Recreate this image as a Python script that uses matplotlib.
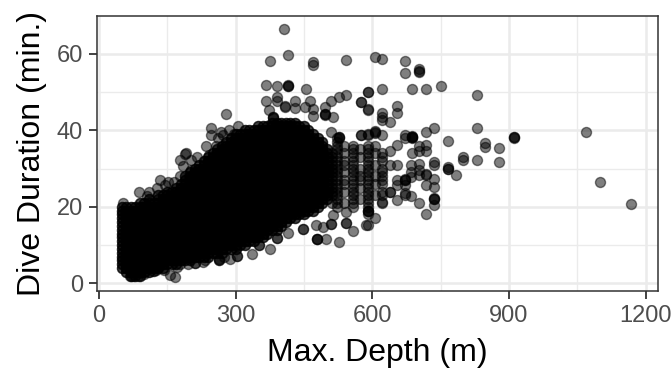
import matplotlib
matplotlib.use("Agg")
import matplotlib.pyplot as plt
from matplotlib.ticker import FixedLocator

plt.rcParams['font.family'] = ['Liberation Sans', 'DejaVu Sans']

# dense part of the cloud, read as columns of dives at about the same depth
col_depth = [50, 60, 70, 80, 90, 100, 110, 120, 130, 140, 150, 160, 170, 180, 190, 200,
             210, 220, 230, 240, 250, 260, 270, 280, 290, 300, 310, 320, 330, 340, 350,
             360, 370, 380, 390, 400, 410, 420, 430, 440, 450, 460, 470, 480, 490, 500]
col_dur = [
    [4,5,6,7,8,9,10,11,12,13,14,15,16,17,18,19,20],
    [3,4,5,6,7,8,9,10,11,12,13,14,15,16,17,18,19,20],
    [2,3,4,5,6,7,8,9,10,11,12,13,14,15,16,17,18,19,20],
    [2,3,4,5,6,7,8,9,10,11,12,13,14,15,16,17,18,19,20],
    [2,3,4,5,6,7,8,9,10,11,12,13,14,15,16,17,18,19,20,21],
    [3,4,5,6,7,8,9,10,11,12,13,14,15,16,17,18,19,20,21],
    [3,4,5,6,7,8,9,10,11,12,13,14,15,16,17,18,19,20,21,22],
    [4,5,6,7,8,9,10,11,12,13,14,15,16,17,18,19,20,21],
    [4,5,6,7,8,9,10,11,12,13,14,15,16,17,18,19,20,21,22,23],
    [4,5,6,7,8,9,10,11,12,13,14,15,16,17,18,19,20,21,22,23],
    [5,6,7,8,9,10,11,12,13,14,15,16,17,18,19,20,21,22,23,24],
    [5,6,7,8,9,10,11,12,13,14,15,16,17,18,19,20,21,22,23,24],
    [5,6,7,8,9,10,11,12,13,14,15,16,17,18,19,20,21,22,23,24,25],
    [6,7,8,9,10,11,12,13,14,15,16,17,18,19,20,21,22,23,24,25,26],
    [6,7,8,9,10,11,12,13,14,15,16,17,18,19,20,21,22,23,24,25,26,27,28],
    [6,7,8,9,10,11,12,13,14,15,16,17,18,19,20,21,22,23,24,25,26,27,28,29],
    [7,8,9,10,11,12,13,14,15,16,17,18,19,20,21,22,23,24,25,26,27,28,29,30],
    [7,8,9,10,11,12,13,14,15,16,17,18,19,20,21,22,23,24,25,26,27,28,29,30,31],
    [7,8,9,10,11,12,13,14,15,16,17,18,19,20,21,22,23,24,25,26,27,28,29,30,31,32],
    [7,8,9,10,11,12,13,14,15,16,17,18,19,20,21,22,23,24,25,26,27,28,29,30,31,32,33],
    [8,9,10,11,12,13,14,15,16,17,18,19,20,21,22,23,24,25,26,27,28,29,30,31,32,33,34],
    [8,9,10,11,12,13,14,15,16,17,18,19,20,21,22,23,24,25,26,27,28,29,30,31,32,33,34,35],
    [8,9,10,11,12,13,14,15,16,17,18,19,20,21,22,23,24,25,26,27,28,29,30,31,32,33,34,35,36],
    [9,10,11,12,13,14,15,16,17,18,19,20,21,22,23,24,25,26,27,28,29,30,31,32,33,34,35,36,37],
    [9,10,11,12,13,14,15,16,17,18,19,20,21,22,23,24,25,26,27,28,29,30,31,32,33,34,35,36,37,38],
    [9,10,11,12,13,14,15,16,17,18,19,20,21,22,23,24,25,26,27,28,29,30,31,32,33,34,35,36,37,38,39],
    [10,11,12,13,14,15,16,17,18,19,20,21,22,23,24,25,26,27,28,29,30,31,32,33,34,35,36,37,38,39],
    [10,11,12,13,14,15,16,17,18,19,20,21,22,23,24,25,26,27,28,29,30,31,32,33,34,35,36,37,38,39,40],
    [11,12,13,14,15,16,17,18,19,20,21,22,23,24,25,26,27,28,29,30,31,32,33,34,35,36,37,38,39,40],
    [11,12,13,14,15,16,17,18,19,20,21,22,23,24,25,26,27,28,29,30,31,32,33,34,35,36,37,38,39,40],
    [12,13,14,15,16,17,18,19,20,21,22,23,24,25,26,27,28,29,30,31,32,33,34,35,36,37,38,39,40,41],
    [12,13,14,15,16,17,18,19,20,21,22,23,24,25,26,27,28,29,30,31,32,33,34,35,36,37,38,39,40,41],
    [13,14,15,16,17,18,19,20,21,22,23,24,25,26,27,28,29,30,31,32,33,34,35,36,37,38,39,40,41],
    [14,15,16,17,18,19,20,21,22,23,24,25,26,27,28,29,30,31,32,33,34,35,36,37,38,39,40,41,42],
    [14,15,16,17,18,19,20,21,22,23,24,25,26,27,28,29,30,31,32,33,34,35,36,37,38,39,40,41,42],
    [15,16,17,18,19,20,21,22,23,24,25,26,27,28,29,30,31,32,33,34,35,36,37,38,39,40,41,42],
    [16,17,18,19,20,21,22,23,24,25,26,27,28,29,30,31,32,33,34,35,36,37,38,39,40,41,42],
    [17,18,19,20,21,22,23,24,25,26,27,28,29,30,31,32,33,34,35,36,37,38,39,40,41,42],
    [17,18,19,20,21,22,23,24,25,26,27,28,29,30,31,32,33,34,35,36,37,38,39,40,41,42],
    [18,19,20,21,22,23,24,25,26,27,28,29,30,31,32,33,34,35,36,37,38,39,40,41],
    [18,19,20,21,22,23,24,25,26,27,28,29,30,31,32,33,34,35,36,37,38,39,40,41],
    [19,20,21,22,23,24,25,26,27,28,29,30,31,32,33,34,35,36,37,38,39,40],
    [19,20,21,22,23,24,25,26,27,28,29,30,31,32,33,34,35,36,37,38,39],
    [20,21,22,23,24,25,26,27,28,29,30,31,32,33,34,35,36,37,38],
    [21,22,23,24,25,26,27,28,29,30,31,32,33,34,35,36,37],
    [22,23,24,25,26,27,28,29,30,31,32,33,34,35],
]

# stacks to the right of the dense part
stack_depth = [512, 522, 538, 557, 573, 590, 606, 621]
stack_dur = [
    [21,23,24,25,26,27,28,29,30,31,32,33,34],
    [20,21,22,23,24,25,26,27,28,29,30,31,32,33,34,35,36,37,38],
    [21,24,26,27,29,31,32,34,36],
    [20,21,22,23,24,25,26,27,28,29,30,31,32,33,34,35,36],
    [22,25,27,28,30,33,35],
    [18,19,20,21,22,23,24,25,26,27,28,29,30,31,32,33,34,35,36],
    [23,26,28,31,34],
    [21,23,24,26,27,28,29,30,32,33,34],
]

# single dives around the cloud
edge_depth = [407, 415, 375, 471, 471, 542, 367, 392, 414, 414, 414, 455, 366, 391, 391, 431, 431,
              463, 452, 471, 471, 496, 510, 527, 543, 575, 591, 590, 278, 373, 382, 382, 382, 408,
              408, 497, 497, 497, 513, 247, 247, 267, 272, 296, 258, 192, 177, 510, 527, 527, 527,
              576, 590, 607, 622, 671, 671, 703, 703, 703, 591, 622, 687, 719, 751, 830, 576, 591,
              655, 655, 622, 622, 622, 638, 607, 607, 607, 622, 576, 591, 671, 671, 687, 687, 687,
              687, 687, 719, 735, 830, 767, 847, 847, 879, 910, 910, 910, 1070, 607, 655, 638, 687,
              703, 703, 719, 719, 735, 799, 799, 830, 879, 735, 767, 767, 767, 783, 719, 735, 735,
              719, 735, 735, 735, 735, 719, 703, 686, 671, 655, 638, 638, 622, 607, 591, 591, 591,
              686, 703, 703, 686, 686, 703, 719, 655, 638, 655, 655, 671, 671, 671, 671, 671, 1100,
              1167, 155, 167, 179, 210, 210, 228, 264, 264, 264, 287, 303, 303, 335, 375, 351, 351,
              391, 391, 416, 448, 448, 479, 479, 479, 498, 526, 558, 543, 543, 510, 510, 477, 492,
              513, 543, 587, 135, 152, 179, 89, 111, 53, 190, 203, 203, 242, 75, 68, 85, 120, 125,
              105, 128, 145, 165, 185, 215, 235, 262, 285, 305, 100, 118, 142, 172, 196, 232, 275]
edge_dur = [66.6, 59.8, 58.1, 57.9, 57.0, 58.3, 51.8, 51.6, 51.5, 51.5, 51.8, 50.7, 47.6, 48.6, 47.7, 47.6, 45.8,
            47.6, 46.1, 45.5, 43.7, 46.0, 47.6, 48.6, 49.2, 47.4, 50.0, 45.3, 44.2, 45.3, 43.5, 43.5, 43.2, 46.1,
            46.4, 44.2, 44.2, 44.0, 43.5, 40.5, 38.8, 39.6, 38.8, 39.0, 35.9, 34.0, 32.2, 39.6, 38.3, 38.3, 38.0,
            38.9, 39.0, 59.1, 58.6, 58.1, 54.9, 56.1, 55.3, 55.6, 49.9, 50.7, 50.7, 50.7, 51.7, 49.1, 47.4, 45.5,
            46.3, 44.4, 44.4, 43.5, 42.7, 42.2, 39.6, 39.3, 39.8, 38.9, 38.9, 38.9, 38.7, 38.0, 38.3, 38.3, 38.0,
            38.5, 38.2, 39.5, 40.5, 40.6, 37.2, 36.8, 35.7, 35.4, 38.3, 38.3, 38.0, 39.6, 35.9, 36.1, 34.6, 34.1,
            36.0, 34.5, 36.2, 34.6, 31.8, 33.1, 32.2, 32.2, 31.8, 30.9, 30.0, 30.0, 30.3, 28.3, 28.3, 27.2, 25.3,
            25.7, 22.0, 22.0, 22.3, 20.5, 18.1, 21.0, 22.8, 23.5, 21.8, 23.9, 23.9, 21.2, 17.2, 15.2, 19.0, 19.0,
            30.9, 31.3, 29.6, 27.9, 29.2, 28.3, 28.7, 30.9, 30.9, 27.0, 25.7, 27.0, 27.0, 27.3, 25.7, 23.1, 26.5,
            20.8, 2.3, 1.6, 5.0, 5.2, 5.2, 5.5, 6.1, 6.1, 6.3, 6.3, 7.1, 7.1, 7.7, 8.9, 10.0, 10.0,
            11.8, 11.8, 13.2, 14.1, 14.1, 11.7, 11.7, 11.7, 11.6, 10.9, 13.7, 15.7, 15.7, 15.5, 15.5, 15.2, 14.8,
            17.8, 18.7, 15.2, 27.0, 26.5, 28.0, 23.9, 23.9, 20.9, 33.8, 32.2, 29.6, 33.5, 2.0, 1.8, 2.0, 3.2, 3.5,
            22.8, 25.0, 25.6, 26.4, 30.6, 33.0, 35.8, 38.0, 40.2, 41.0, 2.4, 3.2, 3.6, 4.2, 5.1, 6.2, 7.0]

x_major = [0, 300, 600, 900, 1200]
x_minor = [150, 450, 750, 1050]
y_major = [0, 20, 40, 60]
y_minor = [10, 30, 50]

depth = list(edge_depth)
duration = list(edge_dur)
for d, durs in zip(stack_depth, stack_dur):
    for v in durs:
        depth.append(d)
        duration.append(v)
# the core of the cloud is overplotted so many times that it reads as solid black
for d, durs in zip(col_depth, col_dur):
    for v in durs + durs:
        depth.append(d)
        duration.append(v)

fig = plt.figure(figsize=(6.72, 3.84), dpi=100)
ax = fig.add_axes([96.6 / 672, 1 - 291 / 384, (657.5 - 96.6) / 672, (291 - 16.3) / 384])

ax.scatter(depth, duration, s=52, c='black', alpha=0.5, edgecolors='black', linewidths=1.0,
           zorder=3)

ax.set_xlim(-5, 1226)
ax.set_ylim(-2.0, 69.8)
ax.xaxis.set_major_locator(FixedLocator(x_major))
ax.xaxis.set_minor_locator(FixedLocator(x_minor))
ax.yaxis.set_major_locator(FixedLocator(y_major))
ax.yaxis.set_minor_locator(FixedLocator(y_minor))
ax.set_axisbelow(True)
ax.grid(which='major', color='#EBEBEB', linewidth=1.8)
ax.grid(which='minor', color='#EBEBEB', linewidth=1.0)
ax.tick_params(which='minor', length=0)
ax.tick_params(which='major', length=5.8, width=1.3, color='#333333', labelcolor='#4D4D4D',
               labelsize=17, pad=4)
for s in ax.spines.values():
    s.set_color('#333333')
    s.set_linewidth(1.1)

ax.set_xlabel('Max. Depth (m)', fontsize=23, labelpad=8)
ax.set_ylabel('Dive Duration (min.)', fontsize=23, labelpad=7)

fig.savefig('out.png', dpi=100)
